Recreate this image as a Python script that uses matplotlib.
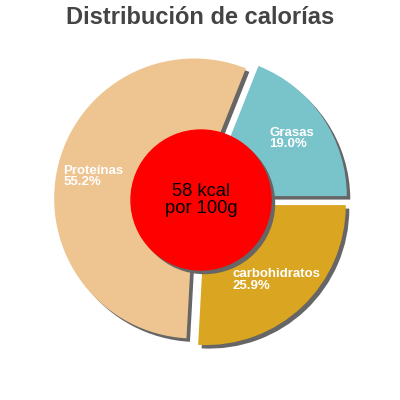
import numpy as np
import matplotlib.pyplot as plt
from matplotlib.patches import Circle

plt.rcParams['font.family'] = ['Liberation Sans', 'DejaVu Sans']

# Datos
labels = ['Grasas', 'Proteínas', 'carbohidratos']
values = [19.0, 55.2, 25.9]
colors = ['#79C3CB', '#EEC591', '#DAA520']
title = 'Distribución de calorías'
center_text = '58 kcal\npor 100g'

explode = [0.05] * len(values)
shadow_off = (0.025, -0.025)
xlim = (-201 / 140, 199 / 140)
ylim = (-200 / 140, 200 / 140)

fig = plt.figure(figsize=(4, 4), dpi=100)
ax = fig.add_axes([0, 0, 1, 1])

# sombras
ax.pie(values, colors=['#666666'] * 3, explode=explode, startangle=0,
       counterclock=True, center=shadow_off, radius=1.0, normalize=True)

wedges, _ = ax.pie(values, colors=colors, explode=explode, startangle=0,
                   counterclock=True, radius=1.0, normalize=True)

for w, lab, v in zip(wedges, labels, values):
    mid = np.deg2rad((w.theta1 + w.theta2) / 2)
    cx, cy = w.center
    r = 0.735
    ax.text(cx + r * np.cos(mid), cy + r * np.sin(mid), f'{lab}\n{v:.1f}%',
            ha='center', va='center', multialignment='left', color='white',
            fontsize=9.5, fontweight='bold', linespacing=0.95)

ax.add_patch(Circle(shadow_off, 0.5, color='#666666', zorder=5))
ax.add_patch(Circle((0, 0), 0.5, color='#FF0000', zorder=6))
ax.text(0, 0, center_text, ha='center', va='center', fontsize=13.2,
        color='black', zorder=7, linespacing=0.95)

ax.set_xlim(*xlim)
ax.set_ylim(*ylim)
ax.set_aspect('equal')
ax.axis('off')

fig.text(0.5, 0.955, title, ha='center', va='center', fontsize=17,
         fontweight='bold', color='#444444')

fig.savefig('out.png', dpi=100)
